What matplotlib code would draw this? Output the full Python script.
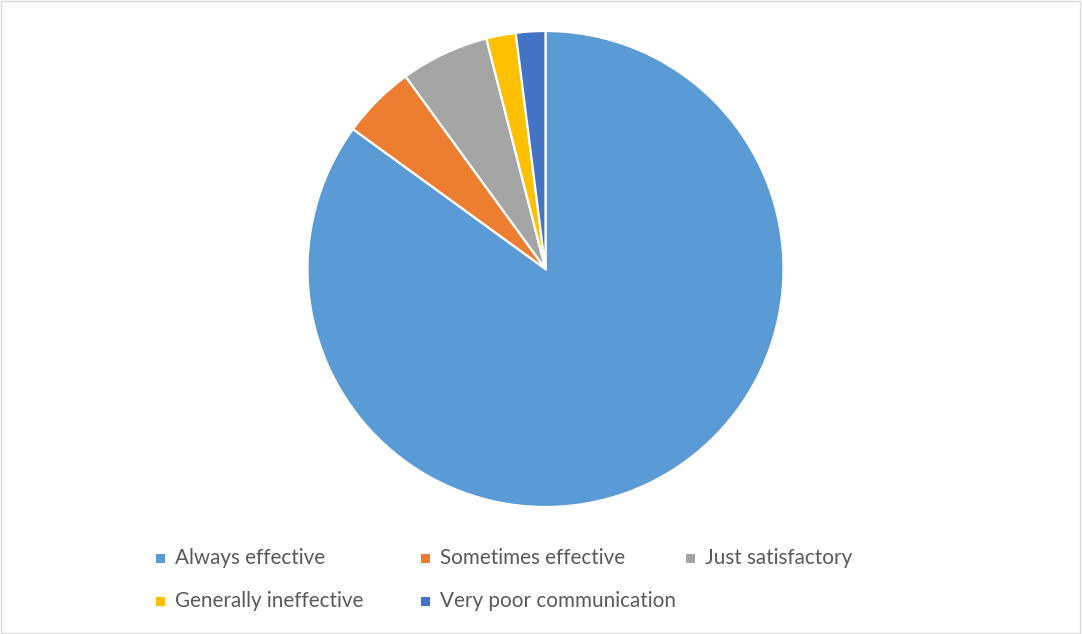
import matplotlib
matplotlib.use("Agg")
import matplotlib.pyplot as plt
from matplotlib.patches import Rectangle

categories = ["Always effective", "Sometimes effective", "Just satisfactory",
              "Generally ineffective", "Very poor communication"]
values = [85, 5, 6, 2, 2]
colors = ["#5B9BD5", "#ED7D31", "#A5A5A5", "#FFC000", "#4472C4"]

W, H = 1082, 634
fig = plt.figure(figsize=(W / 100, H / 100), dpi=100)
fig.patch.set_facecolor("white")

# outer chart border
fig.patches.append(Rectangle((0.5 / W, 1.5 / H), (W - 2.5) / W, (H - 2.5) / H,
                             transform=fig.transFigure, fill=False,
                             edgecolor="#D9D9D9", linewidth=1.0))

cx, cy, r = 545.5, 269, 238
ax = fig.add_axes([(cx - r) / W, (H - cy - r) / H, 2 * r / W, 2 * r / H])
ax.pie(values, colors=colors, startangle=90, counterclock=False,
       wedgeprops=dict(edgecolor="white", linewidth=1.6))
ax.set_xlim(-1, 1)
ax.set_ylim(-1, 1)
ax.set_aspect("equal")
ax.axis("off")

# legend (Excel style fixed-width grid)
col_x = [160, 425, 690]
row_y = [558, 601]
sq = 9
for i, (lab, c) in enumerate(zip(categories, colors)):
    x = col_x[i % 3]
    y = row_y[i // 3]
    fig.patches.append(Rectangle(((x - sq / 2) / W, (H - y - sq / 2) / H), sq / W, sq / H,
                                 transform=fig.transFigure, facecolor=c, edgecolor="none"))
    fig.text((x + 15) / W, (H - y) / H, lab, fontsize=14.9, color="#595959",
             family="Lato", va="center", ha="left")

fig.savefig("out.png", dpi=100, facecolor="white")
